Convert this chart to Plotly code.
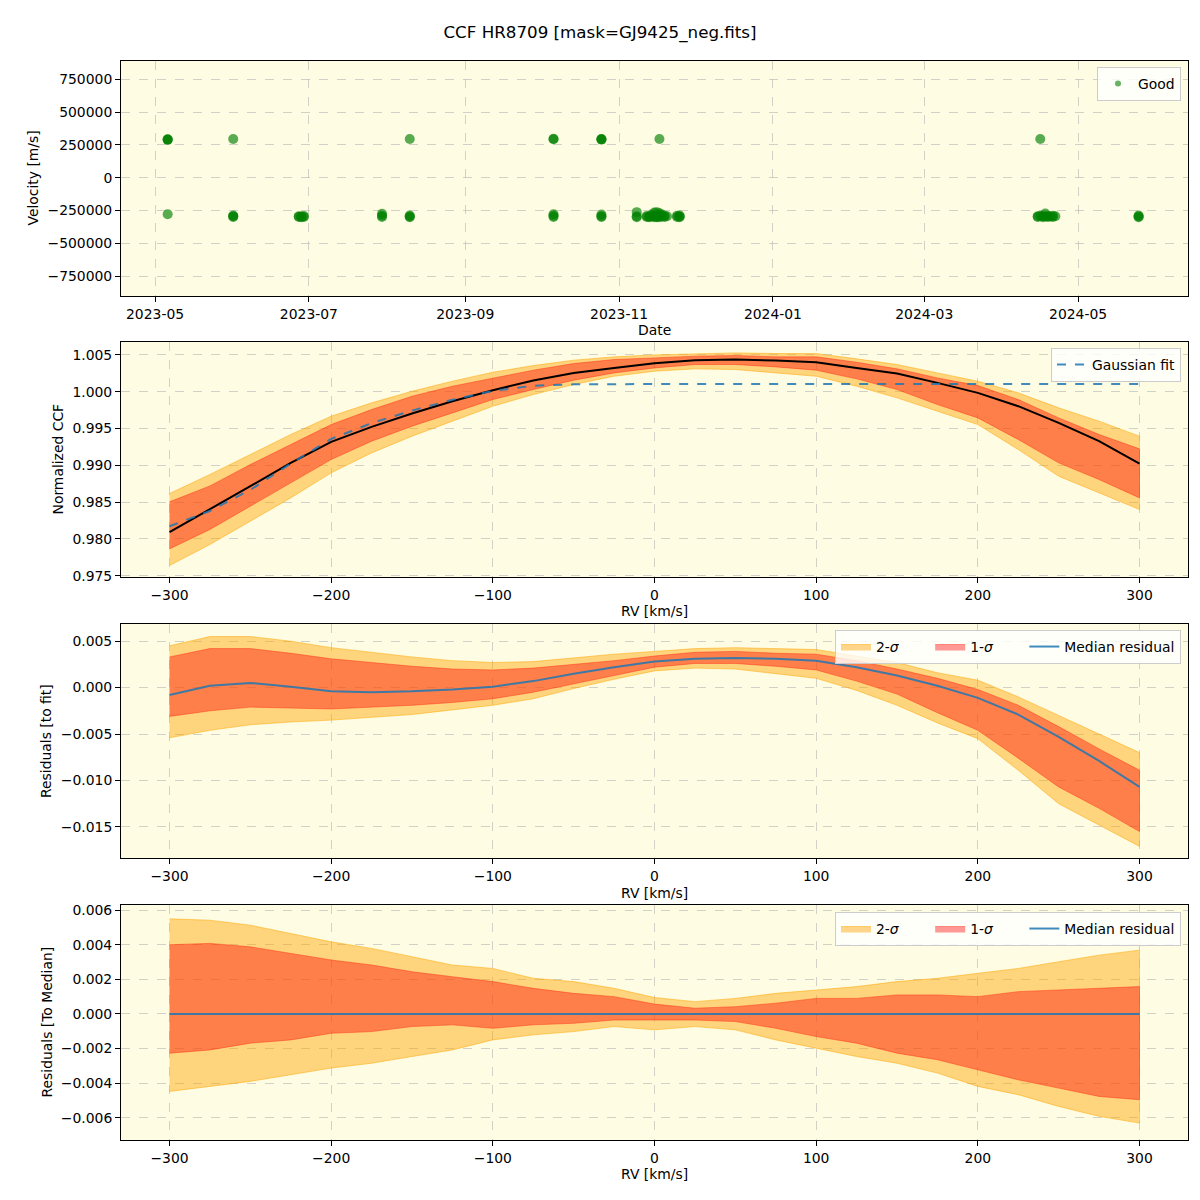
import plotly.graph_objects as go

# ---------------- Panel 1: velocities vs date ----------------
obs_dates = [
    "2023-05-06", "2023-05-06", "2023-05-06", "2023-05-06",
    "2023-06-01", "2023-06-01", "2023-06-01", "2023-06-01",
    "2023-06-27", "2023-06-27", "2023-06-28", "2023-06-28", "2023-06-29", "2023-06-29",
    "2023-07-30", "2023-07-30", "2023-07-30",
    "2023-08-10", "2023-08-10", "2023-08-10", "2023-08-10",
    "2023-10-06", "2023-10-06", "2023-10-06", "2023-10-06", "2023-10-06",
    "2023-10-25", "2023-10-25", "2023-10-25", "2023-10-25", "2023-10-25", "2023-10-25",
    "2023-11-08", "2023-11-08", "2023-11-08",
    "2023-11-12", "2023-11-12", "2023-11-13", "2023-11-13", "2023-11-14", "2023-11-14",
    "2023-11-15", "2023-11-15", "2023-11-15", "2023-11-16", "2023-11-16", "2023-11-16",
    "2023-11-17", "2023-11-17", "2023-11-17", "2023-11-17",
    "2023-11-18", "2023-11-18", "2023-11-19", "2023-11-19", "2023-11-20",
    "2023-11-24", "2023-11-24", "2023-11-25", "2023-11-25", "2023-11-25",
    "2024-04-16", "2024-04-15", "2024-04-15", "2024-04-16", "2024-04-17", "2024-04-17",
    "2024-04-18", "2024-04-18", "2024-04-19", "2024-04-19", "2024-04-20",
    "2024-04-21", "2024-04-21", "2024-04-22",
    "2024-05-25", "2024-05-25", "2024-05-25",
]
obs_vel = [
    290000, 292000, 288000, -278000,
    295000, -288000, -293000, -298000,
    -293000, -298000, -295000, -300000, -292000, -298000,
    -275000, -290000, -298000,
    295000, -288000, -295000, -300000,
    293000, 297000, -278000, -290000, -298000,
    290000, 295000, 292000, -280000, -293000, -298000,
    -262000, -293000, -300000,
    -292000, -298000, -295000, -300000, -280000, -295000,
    -265000, -292000, -300000, -262000, -295000, -300000,
    295000, -270000, -292000, -300000,
    -280000, -295000, -290000, -298000, -293000,
    -290000, -298000, -288000, -295000, -300000,
    295000, -293000, -298000, -290000, -292000, -300000,
    -272000, -295000, -292000, -298000, -295000,
    -290000, -298000, -293000,
    -288000, -295000, -300000,
]

# ---------------- Panels 2-4: CCF vs RV ----------------
rv = [-300, -275, -250, -225, -200, -175, -150, -125, -100, -75, -50, -25, 0,
      25, 50, 75, 100, 125, 150, 175, 200, 225, 250, 275, 300]

ccf_median = [0.98091, 0.98399, 0.98716, 0.99033, 0.99318, 0.99522, 0.99703, 0.99870, 1.00020,
              1.00151, 1.00255, 1.00323, 1.00385, 1.00428, 1.00437, 1.00423, 1.00400, 1.00323,
              1.00246, 1.00120, 0.99984, 0.99803, 0.99576, 0.99327, 0.99024]
ccf_fit = [0.98171, 0.98379, 0.98666, 0.99023, 0.99358, 0.99572, 0.99743, 0.99890, 1.00010,
           1.00081, 1.00100, 1.00105, 1.00106, 1.00106, 1.00106, 1.00106, 1.00106, 1.00106,
           1.00106, 1.00106, 1.00106, 1.00106, 1.00106, 1.00106, 1.00106]
ccf_2s_hi = [0.98616, 0.98875, 0.99146, 0.99418, 0.99667, 0.99848, 1.00006, 1.00142, 1.00264,
             1.00355, 1.00428, 1.00473, 1.00500, 1.00518, 1.00527, 1.00518, 1.00518, 1.00446,
             1.00369, 1.00255, 1.00142, 0.99984, 0.99780, 0.99599, 0.99395]
ccf_1s_hi = [0.98503, 0.98720, 0.99010, 0.99282, 0.99553, 0.99757, 0.99938, 1.00074, 1.00187,
             1.00292, 1.00382, 1.00437, 1.00459, 1.00482, 1.00491, 1.00473, 1.00473, 1.00400,
             1.00310, 1.00187, 1.00083, 0.99893, 0.99644, 0.99418, 0.99223]
ccf_1s_lo = [0.97864, 0.98127, 0.98444, 0.98761, 0.99078, 0.99327, 0.99531, 0.99712, 0.99893,
             1.00029, 1.00156, 1.00255, 1.00323, 1.00369, 1.00369, 1.00337, 1.00292, 1.00174,
             1.00029, 0.99825, 0.99644, 0.99350, 0.99033, 0.98806, 0.98557]
ccf_2s_lo = [0.97638, 0.97923, 0.98240, 0.98557, 0.98897, 0.99168, 0.99395, 0.99599, 0.99803,
             0.99961, 1.00097, 1.00210, 1.00278, 1.00310, 1.00301, 1.00255, 1.00210, 1.00074,
             0.99916, 0.99735, 0.99553, 0.99214, 0.98851, 0.98625, 0.98399]

res_median = [-0.0008, 0.0002, 0.0005, 0.0001, -0.0004, -0.0005, -0.0004, -0.0002, 0.0001,
              0.0007, 0.0015, 0.0022, 0.0028, 0.0031, 0.0032, 0.0031, 0.0029, 0.0022,
              0.0013, 0.0002, -0.0011, -0.0029, -0.0053, -0.0079, -0.0107]
res_2s_hi = [0.0045, 0.0055, 0.0055, 0.0050, 0.0043, 0.0038, 0.0033, 0.0029, 0.0027,
             0.0028, 0.0032, 0.0036, 0.0039, 0.0042, 0.0043, 0.0042, 0.0041, 0.0034,
             0.0027, 0.0016, 0.0008, -0.0010, -0.0030, -0.0050, -0.0070]
res_1s_hi = [0.0033, 0.0042, 0.0042, 0.0037, 0.0031, 0.0027, 0.0023, 0.0020, 0.0019,
             0.0021, 0.0025, 0.0029, 0.0034, 0.0038, 0.0039, 0.0037, 0.0036, 0.0029,
             0.0020, 0.0010, -0.0002, -0.0019, -0.0042, -0.0066, -0.0089]
res_1s_lo = [-0.0031, -0.0025, -0.0021, -0.0022, -0.0023, -0.0021, -0.0019, -0.0016, -0.0012,
             -0.0005, 0.0004, 0.0013, 0.0022, 0.0026, 0.0026, 0.0023, 0.0019, 0.0007,
             -0.0007, -0.0027, -0.0046, -0.0076, -0.0107, -0.0130, -0.0155]
res_2s_lo = [-0.0054, -0.0046, -0.0040, -0.0037, -0.0035, -0.0032, -0.0029, -0.0024, -0.0019,
             -0.0012, -0.0001, 0.0009, 0.0018, 0.0021, 0.0020, 0.0015, 0.0010, -0.0003,
             -0.0019, -0.0038, -0.0055, -0.0089, -0.0125, -0.0148, -0.0171]

med_zero = [0.0, 0.0, 0.0, 0.0, 0.0, 0.0, 0.0, 0.0, 0.0, 0.0, 0.0, 0.0, 0.0,
            0.0, 0.0, 0.0, 0.0, 0.0, 0.0, 0.0, 0.0, 0.0, 0.0, 0.0, 0.0]
dev_2s_hi = [0.0055, 0.00542, 0.00513, 0.00465, 0.00417, 0.00379, 0.00331, 0.00283, 0.00263,
             0.00206, 0.00187, 0.00148, 0.00095, 0.00071, 0.0009, 0.00119, 0.00138, 0.00158,
             0.00187, 0.00206, 0.00235, 0.00263, 0.00302, 0.0034, 0.00369]
dev_1s_hi = [0.0040, 0.00408, 0.00388, 0.0035, 0.00312, 0.00283, 0.00244, 0.00215, 0.00187,
             0.00148, 0.00119, 0.0010, 0.00057, 0.00033, 0.00042, 0.00062, 0.0009, 0.0009,
             0.0011, 0.0011, 0.0010, 0.00129, 0.00138, 0.00148, 0.00158]
dev_1s_lo = [-0.00227, -0.00208, -0.00169, -0.0015, -0.00112, -0.00102, -0.00073, -0.00063, -0.00083,
             -0.00063, -0.00054, -0.00035, -0.00035, -0.00035, -0.00044, -0.00083, -0.00131, -0.00169,
             -0.00227, -0.00265, -0.00323, -0.00381, -0.00429, -0.00477, -0.00496]
dev_2s_lo = [-0.00448, -0.00419, -0.0039, -0.00352, -0.00313, -0.00285, -0.00246, -0.00208, -0.0015,
             -0.00121, -0.00102, -0.00073, -0.00092, -0.00073, -0.00092, -0.0015, -0.00198, -0.00246,
             -0.00285, -0.00342, -0.00419, -0.00467, -0.00535, -0.00592, -0.00631]

# ---------------- styling ----------------
FONT = "DejaVu Sans"
FS = 13.9
BG = "rgb(254,252,226)"
ORANGE_FILL = "rgba(255,165,0,0.45)"
ORANGE_LINE = "rgba(255,165,0,0.5)"
RED_FILL = "rgba(255,0,0,0.40)"
RED_LINE = "rgba(255,40,20,0.45)"
BLUE = "rgba(31,119,180,0.85)"
PAD = "\u00a0" * 6

fig = go.Figure()


def band(x, lo, hi, fill, line, name, xa, ya, legend, show):
    xs = list(x) + list(x)[::-1]
    ys = list(hi) + list(lo)[::-1]
    return go.Scatter(x=xs, y=ys, fill="toself", fillcolor=fill, mode="lines",
                      line=dict(color=line, width=1), name=name, xaxis=xa, yaxis=ya,
                      legend=legend, showlegend=show, hoverinfo="skip")


# Panel 1
fig.add_trace(go.Scatter(x=obs_dates, y=obs_vel, mode="markers", name="Good",
                         marker=dict(color="green", size=10, opacity=0.65, line=dict(width=0)),
                         xaxis="x", yaxis="y", legend="legend", showlegend=False))
# legend-only entry with a small marker (as in the reference legend)
fig.add_trace(go.Scatter(x=[None], y=[None], mode="markers", name="Good",
                         marker=dict(color="green", size=6, opacity=0.6, line=dict(width=0)),
                         xaxis="x", yaxis="y", legend="legend", showlegend=True))

# Panel 2
fig.add_trace(band(rv, ccf_2s_lo, ccf_2s_hi, ORANGE_FILL, ORANGE_LINE, "2-σ", "x2", "y2", "legend2", False))
fig.add_trace(band(rv, ccf_1s_lo, ccf_1s_hi, RED_FILL, RED_LINE, "1-σ", "x2", "y2", "legend2", False))
fig.add_trace(go.Scatter(x=rv, y=ccf_median, mode="lines", line=dict(color="black", width=2),
                         name="Median CCF", xaxis="x2", yaxis="y2", legend="legend2", showlegend=False))
fig.add_trace(go.Scatter(x=rv, y=ccf_fit, mode="lines", line=dict(color=BLUE, width=2, dash="dash"),
                         name="Gaussian fit", xaxis="x2", yaxis="y2", legend="legend2", showlegend=True))

# Panel 3
fig.add_trace(band(rv, res_2s_lo, res_2s_hi, ORANGE_FILL, ORANGE_LINE, "2-<i>σ</i>" + PAD, "x3", "y3", "legend3", True))
fig.add_trace(band(rv, res_1s_lo, res_1s_hi, RED_FILL, RED_LINE, "1-<i>σ</i>" + PAD, "x3", "y3", "legend3", True))
fig.add_trace(go.Scatter(x=rv, y=res_median, mode="lines", line=dict(color=BLUE, width=2),
                         name="Median residual", xaxis="x3", yaxis="y3", legend="legend3", showlegend=True))

# Panel 4
fig.add_trace(band(rv, dev_2s_lo, dev_2s_hi, ORANGE_FILL, ORANGE_LINE, "2-<i>σ</i>" + PAD, "x4", "y4", "legend4", True))
fig.add_trace(band(rv, dev_1s_lo, dev_1s_hi, RED_FILL, RED_LINE, "1-<i>σ</i>" + PAD, "x4", "y4", "legend4", True))
fig.add_trace(go.Scatter(x=rv, y=med_zero, mode="lines", line=dict(color=BLUE, width=2),
                         name="Median residual", xaxis="x4", yaxis="y4", legend="legend4", showlegend=True))

W = H = 1200
XL, XR = 121 / W, 1188 / W


def ydom(top, bot):
    return [1 - bot / H, 1 - top / H]


axis_common = dict(showline=True, mirror=True, linecolor="black", linewidth=1,
                   ticks="outside", ticklen=5, tickcolor="black", tickwidth=1,
                   showgrid=True, gridcolor="rgba(180,180,180,0.6)", griddash="dash", gridwidth=1,
                   zeroline=False, automargin=False,
                   tickfont=dict(family=FONT, size=FS, color="black"))

rv_ticks = [-300, -200, -100, 0, 100, 200, 300]

layout = dict(
    width=W, height=H,
    margin=dict(l=0, r=0, t=0, b=0),
    paper_bgcolor="white",
    plot_bgcolor=BG,
    showlegend=True,
    font=dict(family=FONT, size=FS, color="black"),
    title=dict(text="CCF HR8709 [mask=GJ9425_neg.fits]", x=0.5, xanchor="center",
               y=1 - 32 / H, yanchor="middle", font=dict(family=FONT, size=16.7, color="black")),
    xaxis=dict(axis_common, domain=[XL, XR], anchor="y", type="date",
               range=["2023-04-17 12:00", "2024-06-13 14:00"],
               tick0="2023-05-01", dtick="M2", tickformat="%Y-%m"),
    yaxis=dict(axis_common, domain=ydom(61, 296), anchor="x",
               range=[-900000, 888000],
               tickvals=[-750000, -500000, -250000, 0, 250000, 500000, 750000],
               tickformat="d"),
    xaxis2=dict(axis_common, domain=[XL, XR], anchor="y2", range=[-330, 330], tickvals=rv_ticks),
    yaxis2=dict(axis_common, domain=ydom(342, 577), anchor="x2", range=[0.97482, 1.00675],
                tickvals=[0.975, 0.980, 0.985, 0.990, 0.995, 1.000, 1.005], tickformat=".3f"),
    xaxis3=dict(axis_common, domain=[XL, XR], anchor="y3", range=[-330, 330], tickvals=rv_ticks),
    yaxis3=dict(axis_common, domain=ydom(624, 858), anchor="x3", range=[-0.01835, 0.00685],
                tickvals=[-0.015, -0.010, -0.005, 0.0, 0.005], tickformat=".3f"),
    xaxis4=dict(axis_common, domain=[XL, XR], anchor="y4", range=[-330, 330], tickvals=rv_ticks),
    yaxis4=dict(axis_common, domain=ydom(905, 1140), anchor="x4", range=[-0.00729, 0.00630],
                tickvals=[-0.006, -0.004, -0.002, 0.0, 0.002, 0.004, 0.006], tickformat=".3f"),
)

leg_common = dict(bgcolor="rgba(255,255,255,0.8)", bordercolor="rgba(204,204,204,1)", borderwidth=1,
                  font=dict(family=FONT, size=FS, color="black"), xanchor="right", yanchor="top",
                  x=1181 / W, visible=True)
layout["legend"] = dict(leg_common, y=1 - 67 / H)
layout["legend2"] = dict(leg_common, y=1 - 348 / H)
layout["legend3"] = dict(leg_common, y=1 - 630 / H, orientation="h")
layout["legend4"] = dict(leg_common, y=1 - 912 / H, orientation="h")

fig.update_layout(**layout)

xc = (121 + 1188) / 2 / W
ann = [
    dict(text="Date", x=xc, y=1 - 330 / H),
    dict(text="RV [km/s]", x=xc, y=1 - 611 / H),
    dict(text="RV [km/s]", x=xc, y=1 - 893 / H),
    dict(text="RV [km/s]", x=xc, y=1 - 1174 / H),
    dict(text="Velocity [m/s]", x=33 / W, y=1 - 178.5 / H, textangle=-90),
    dict(text="Normalized CCF", x=57 / W, y=1 - 459.5 / H, textangle=-90),
    dict(text="Residuals [to fit]", x=46 / W, y=1 - 741 / H, textangle=-90),
    dict(text="Residuals [To Median]", x=46 / W, y=1 - 1022.5 / H, textangle=-90),
]
for a in ann:
    fig.add_annotation(xref="paper", yref="paper", showarrow=False, xanchor="center", yanchor="middle",
                       font=dict(family=FONT, size=FS, color="black"), **a)

fig.write_html("out.html", config={"displayModeBar": False},
               post_script="document.body.style.margin='0';")
